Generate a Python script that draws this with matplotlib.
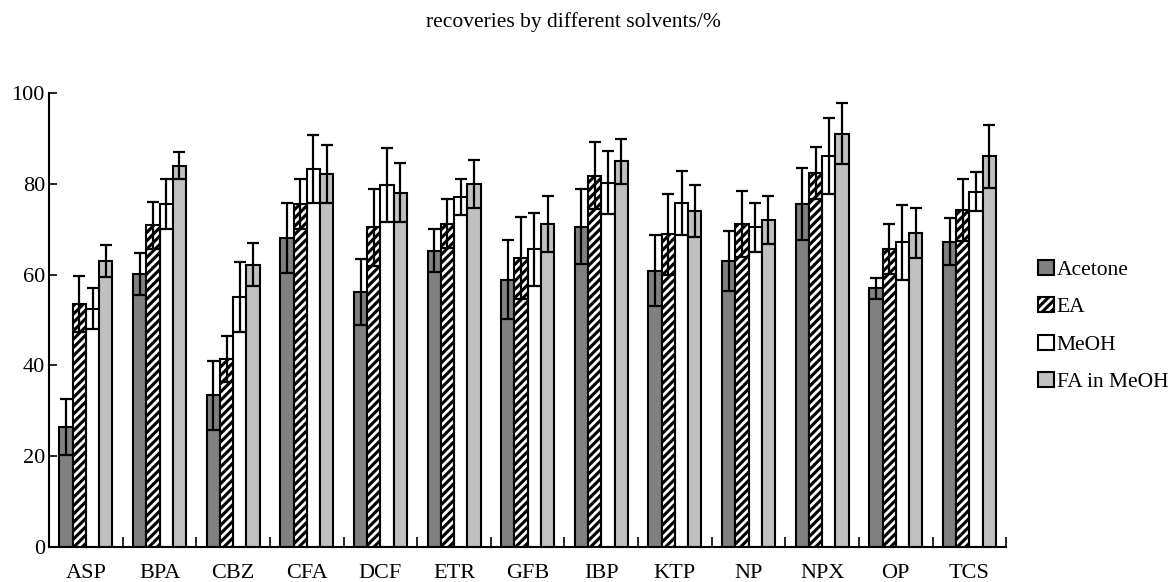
import matplotlib
matplotlib.use("Agg")
import matplotlib.pyplot as plt
import numpy as np

plt.rcParams['font.family'] = 'Liberation Serif'
plt.rcParams['hatch.linewidth'] = 2.0

compounds = ['ASP', 'BPA', 'CBZ', 'CFA', 'DCF', 'ETR', 'GFB', 'IBP', 'KTP', 'NP', 'NPX', 'OP', 'TCS']
solvents = ['Acetone', 'EA', 'MeOH', 'FA in MeOH']

acetone = [26.5, 60.1, 33.4, 68.1, 56.2, 65.3, 58.9, 70.6, 60.9, 63.1, 75.6, 57.0, 67.3]
acetone_err = [6.2, 4.6, 7.5, 7.7, 7.3, 4.8, 8.7, 8.2, 7.8, 6.6, 8.0, 2.3, 5.1]
ea = [53.6, 70.9, 41.4, 75.6, 70.4, 71.2, 63.7, 81.8, 68.9, 71.2, 82.4, 65.7, 74.3]
ea_err = [6.2, 5.2, 5.0, 5.5, 8.4, 5.4, 9.0, 7.4, 8.9, 7.2, 5.7, 5.5, 6.8]
meoh = [52.5, 75.6, 55.1, 83.3, 79.8, 77.1, 65.6, 80.3, 75.8, 70.4, 86.1, 67.1, 78.3]
meoh_err = [4.5, 5.5, 7.8, 7.4, 8.2, 3.9, 8.0, 6.9, 7.0, 5.5, 8.4, 8.3, 4.3]
fa_meoh = [63.1, 84.0, 62.2, 82.1, 78.0, 80.0, 71.2, 85.0, 74.0, 72.1, 91.1, 69.2, 86.1]
fa_meoh_err = [3.5, 3.0, 4.7, 6.4, 6.5, 5.3, 6.2, 5.0, 5.8, 5.3, 6.8, 5.5, 6.9]

fig = plt.figure(figsize=(11.7, 5.82), dpi=100)
ax = fig.add_axes([0.042, 0.06, 0.818, 0.78])

x = np.arange(len(compounds)) + 0.5
w = 0.18
err_kw = dict(fmt='none', ecolor='black', elinewidth=1.6, capsize=4, capthick=1.6, zorder=4)

# Acetone: dark grey
b1 = ax.bar(x - 1.5 * w, acetone, w, color='#808080', edgecolor='black', linewidth=1.5, zorder=2)
ax.errorbar(x - 1.5 * w, acetone, yerr=acetone_err, **err_kw)

# EA: black with white diagonal stripes, outline drawn separately
b2h = ax.bar(x - 0.5 * w, ea, w, color='black', edgecolor='white', hatch='////', linewidth=0, zorder=2)
b2o = ax.bar(x - 0.5 * w, ea, w, fill=False, edgecolor='black', linewidth=1.5, zorder=3)
ax.errorbar(x - 0.5 * w, ea, yerr=ea_err, **err_kw)

# MeOH: white
b3 = ax.bar(x + 0.5 * w, meoh, w, color='white', edgecolor='black', linewidth=1.5, zorder=2)
ax.errorbar(x + 0.5 * w, meoh, yerr=meoh_err, **err_kw)

# FA in MeOH: light grey
b4 = ax.bar(x + 1.5 * w, fa_meoh, w, color='#c0c0c0', edgecolor='black', linewidth=1.5, zorder=2)
ax.errorbar(x + 1.5 * w, fa_meoh, yerr=fa_meoh_err, **err_kw)

ax.set_xlim(0, len(compounds))
ax.set_ylim(0, 100)
ax.set_yticks([0, 20, 40, 60, 80, 100])
ax.set_xticks(np.arange(1, len(compounds) + 1))
ax.set_xticklabels([])
ax.set_xticks(x, minor=True)
ax.set_xticklabels(compounds, minor=True)

ax.tick_params(axis='x', which='major', direction='in', length=7, width=1.2)
ax.tick_params(axis='x', which='minor', length=0, pad=12, labelsize=16)
ax.tick_params(axis='y', direction='in', length=6, width=1.2, labelsize=16, pad=3)

for side in ('top', 'right'):
    ax.spines[side].set_visible(False)
for side in ('left', 'bottom'):
    ax.spines[side].set_linewidth(1.5)

fig.text(0.49, 0.962, 'recoveries by different solvents/%', ha='center', va='center', fontsize=15.5)

handles = [b1[0], (b2h[0], b2o[0]), b3[0], b4[0]]
ax.legend(handles, solvents, loc='center left', bbox_to_anchor=(0.871, 0.44),
          bbox_transform=fig.transFigure, frameon=False, fontsize=15.5,
          handlelength=0.7, handleheight=0.7, handletextpad=0.15, labelspacing=0.8)

fig.savefig('out.png', dpi=100)
